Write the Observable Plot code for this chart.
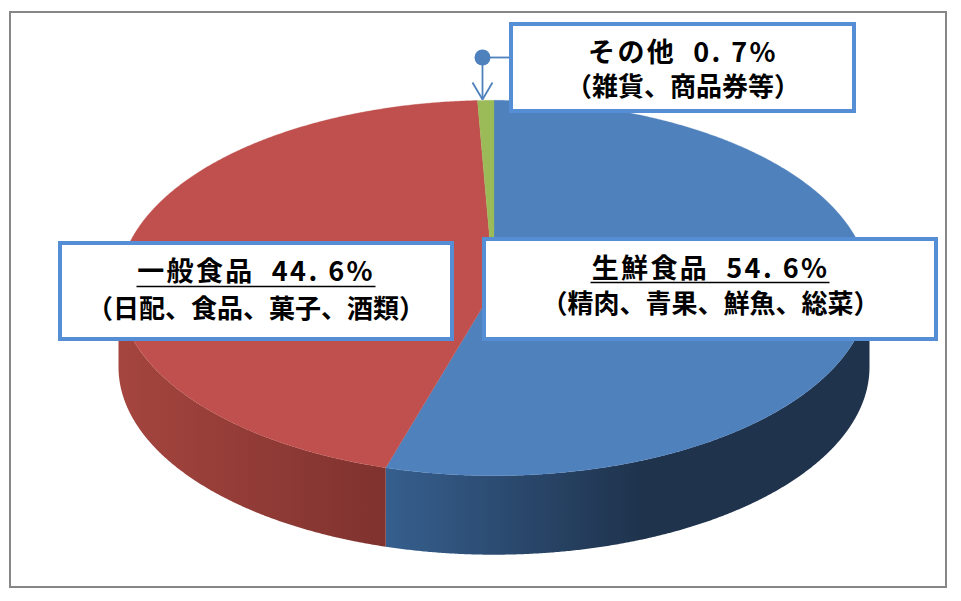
<!DOCTYPE html>
<html lang="ja">
<head>
<meta charset="utf-8">
<script src="https://cdn.jsdelivr.net/npm/d3@7"></script>
<script src="https://cdn.jsdelivr.net/npm/@observablehq/plot@0.6"></script>
<style>
html,body{margin:0;padding:0;background:#fff;}
svg{display:block;}
[font-size="27"]{letter-spacing:2.4px;}
</style>
</head>
<body>
<div id="chart"></div>
<script>
// Data
const categories = ["生鮮食品", "一般食品", "その他"];
const shares = [54.6, 44.6, 0.7];
const topColors = ["#4F81BD", "#C0504D", "#9BBB59"];
const headLines = ["生鮮食品  54. 6%", "一般食品  44. 6%", "その他  0. 7%"];
const subLines = ["(精肉、青果、鮮魚、総菜)", "(日配、食品、菓子、酒類)", "(雑貨、商品券等)"].map(s => s.replace("(", "（").replace(")", "）"));

// Layout of the pie
const W = 961, H = 601;
const cx = 493.5, cy = 287.5, rx = 375.5, ry = 187.7, depth = 79;
const pie = d3.pie().sort(null).value(d => d)(shares);
const px = a => cx + rx * Math.sin(a);
const py = a => cy - ry * Math.cos(a);
const arcSteps = (a, b) => d3.range(0, 1.0001, 1 / Math.max(2, Math.ceil((b - a) / 0.005))).map(t => a + (b - a) * t);

// Top faces
const topPoints = pie.flatMap((s, i) => [
  {k: i, x: cx, y: cy, c: topColors[i]},
  ...arcSteps(s.startAngle, s.endAngle).map(a => ({k: i, x: px(a), y: py(a), c: topColors[i]})),
  {k: i, x: cx, y: cy, c: topColors[i]}
]);

// Side wall: the visible front half of the two large slices
const xSplit = px(pie[0].endAngle);
const wallPoints = pie.slice(0, 2).flatMap((s, i) => {
  const as = arcSteps(Math.max(s.startAngle, Math.PI / 2), Math.min(s.endAngle, 3 * Math.PI / 2));
  return [
    ...as.map(a => ({k: i, x: px(a), y: py(a)})),
    ...as.slice().reverse().map(a => ({k: i, x: px(a), y: py(a) + depth}))
  ];
});
const wallDefs = () => {
  const defs = d3.create("svg:defs");
  const grad = (id, x1, x2, c1, c2) => {
    const g = defs.append("linearGradient").attr("id", id).attr("gradientUnits", "userSpaceOnUse")
      .attr("x1", x1).attr("x2", x2).attr("y1", 0).attr("y2", 0);
    g.append("stop").attr("offset", 0).attr("stop-color", c1);
    g.append("stop").attr("offset", 1).attr("stop-color", c2);
  };
  grad("wallBlue", xSplit, 640, "#365F8E", "#1F334D");
  grad("wallRed", cx - rx, xSplit, "#A5453F", "#7F322E");
  return defs.node();
};

// Label boxes
const boxes = [
  {x1: 484, x2: 936, y1: 239, y2: 339},
  {x1: 60, x2: 452, y1: 243, y2: 339},
  {x1: 511, x2: 854, y1: 24, y2: 111}
];
const heads = [
  {x: 710, y: 269, t: headLines[0]},
  {x: 255.5, y: 272, t: headLines[1]},
  {x: 682.5, y: 53, t: headLines[2]}
];
const subs = [
  {x: 710, y: 304.5, t: subLines[0]},
  {x: 255.5, y: 309, t: subLines[1]},
  {x: 682.5, y: 87.5, t: subLines[2]}
];
const underlines = [
  {x1: 590, x2: 829, y: 282},
  {x1: 136, x2: 375, y: 286}
];
const frame = [{x1: 10, x2: 946, y1: 12, y2: 587}];

// Leader for the small slice
const leaderColor = "#4F81BD";
const dot = [{x: 482, y: 57}];
const tipX = 482, tipY = 99;
const leader = [
  {x1: 482, y1: 57, x2: 511, y2: 57},
  {x1: tipX, y1: 57, x2: tipX, y2: tipY},
  {x1: tipX - 10, y1: tipY - 17, x2: tipX, y2: tipY},
  {x1: tipX + 10, y1: tipY - 17, x2: tipX, y2: tipY}
];

const font = "'Noto Sans CJK JP','Noto Sans',sans-serif";
const chart = Plot.plot({
  width: W, height: H,
  margin: 0,
  x: {domain: [0, W], range: [0, W], axis: null},
  y: {domain: [0, H], range: [0, H], axis: null},
  color: {type: "identity"},
  style: {background: "white", fontFamily: font},
  marks: [
    wallDefs,
    Plot.rect(frame, {x1: "x1", x2: "x2", y1: "y1", y2: "y2", fill: "white", stroke: "#868686", strokeWidth: 2}),
    Plot.line(wallPoints.filter(d => d.k === 0), {x: "x", y: "y", fill: "url(#wallBlue)", stroke: "none", curve: "linear"}),
    Plot.line(wallPoints.filter(d => d.k === 1), {x: "x", y: "y", fill: "url(#wallRed)", stroke: "none", curve: "linear"}),
    Plot.line(topPoints, {x: "x", y: "y", z: "k", fill: "c", stroke: "c", strokeWidth: 0.3, curve: "linear"}),
    Plot.link(leader, {x1: "x1", y1: "y1", x2: "x2", y2: "y2", stroke: leaderColor, strokeWidth: 1.8}),
    Plot.dot(dot, {x: "x", y: "y", r: 8, fill: leaderColor, stroke: leaderColor, strokeWidth: 0}),
    Plot.rect(boxes, {x1: "x1", x2: "x2", y1: "y1", y2: "y2", fill: "white", stroke: "#558ED5", strokeWidth: 4}),
    Plot.text(heads, {x: "x", y: "y", text: "t", fontSize: 27, fontWeight: 700, fill: "black", lineAnchor: "middle", fontFamily: font}),
    Plot.text(subs, {x: "x", y: "y", text: "t", fontSize: 26, fontWeight: 700, fill: "black", lineAnchor: "middle", fontFamily: font}),
    Plot.link(underlines, {x1: "x1", x2: "x2", y1: "y", y2: "y", stroke: "black", strokeWidth: 1.5})
  ]
});
document.getElementById("chart").appendChild(chart);
</script>
</body>
</html>
